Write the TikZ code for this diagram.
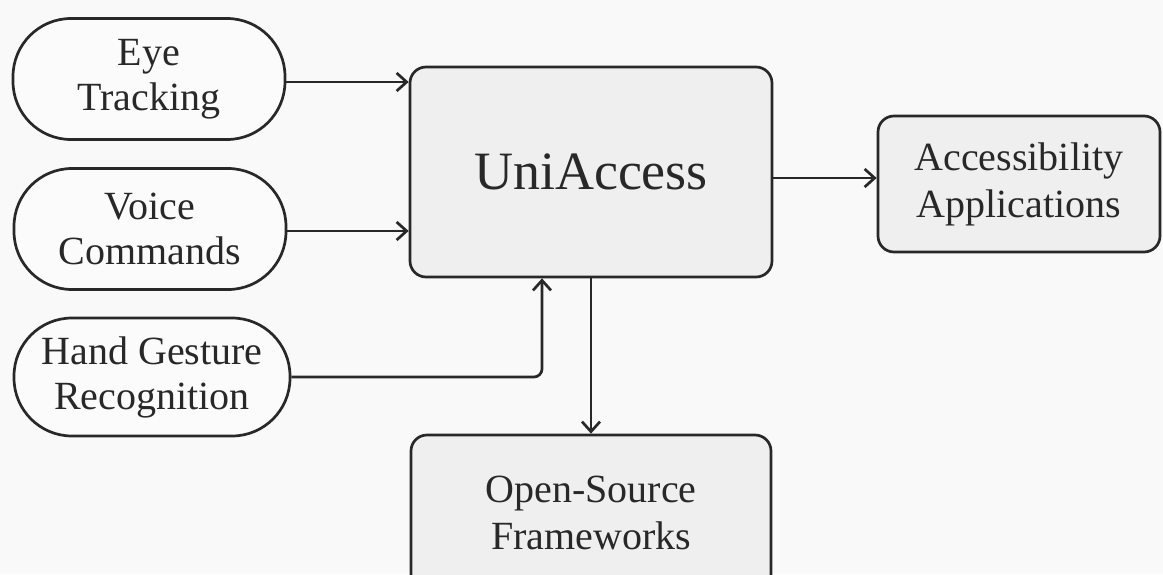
\documentclass[tikz,border=0pt]{standalone}
\usepackage{fontspec}
\setmainfont{Liberation Serif}
\usetikzlibrary{arrows.meta}
\definecolor{bg}{HTML}{F9F9F9}
\definecolor{boxfill}{HTML}{EFEFEF}
\definecolor{pillfill}{HTML}{FBFBFB}
\definecolor{ink}{HTML}{282828}
\tikzset{
  pill/.style={draw=ink, line width=2.7pt, fill=pillfill, rounded corners=58pt,
    minimum width=272pt, minimum height=121pt, align=center, inner sep=0pt,
    font=\fontsize{40}{45}\selectfont, text=ink},
  block/.style={draw=ink, line width=2.7pt, fill=boxfill, rounded corners=16pt,
    align=center, inner sep=0pt, font=\fontsize{40}{47}\selectfont, text=ink},
  conn/.style={draw=ink, line width=2.7pt, -{Straight Barb[length=10pt,width=18pt,line width=2.7pt]}}
}
\begin{document}
\begin{tikzpicture}[x=1pt,y=-1pt]
\useasboundingbox (0,0) rectangle (1163,574);
\fill[bg] (0,0) rectangle (1163,574);
\node[pill] (eye) at (149,79) {Eye\\Tracking};
\node[pill] (voice) at (150,229) {Voice\\Commands};
\node[pill, minimum width=276pt, minimum height=118pt] (hand) at (152,377) {Hand Gesture\\Recognition};
\node[block, minimum width=362pt, minimum height=210pt, font=\fontsize{54}{60}\selectfont] (uni) at (591,172) {UniAccess};
\node[block, minimum width=282pt, minimum height=136pt] (acc) at (1019,184) {Accessibility\\Applications};
\node[block, minimum width=360pt, minimum height=156pt] (open) at (591,513) {Open-Source\\Frameworks};
\draw[conn] ([yshift=-3pt]eye.east) -- ([yshift=-3pt]eye.east -| uni.west);
\draw[conn] ([yshift=-2pt]voice.east) -- ([yshift=-2pt]voice.east -| uni.west);
\draw[conn, rounded corners=8pt] (hand.east) -| ([xshift=-49pt]uni.south);
\draw[conn] ([yshift=-6pt]uni.east) -- ([yshift=-6pt]uni.east -| acc.west);
\draw[conn] (uni.south) -- (open.north);
\end{tikzpicture}
\end{document}
